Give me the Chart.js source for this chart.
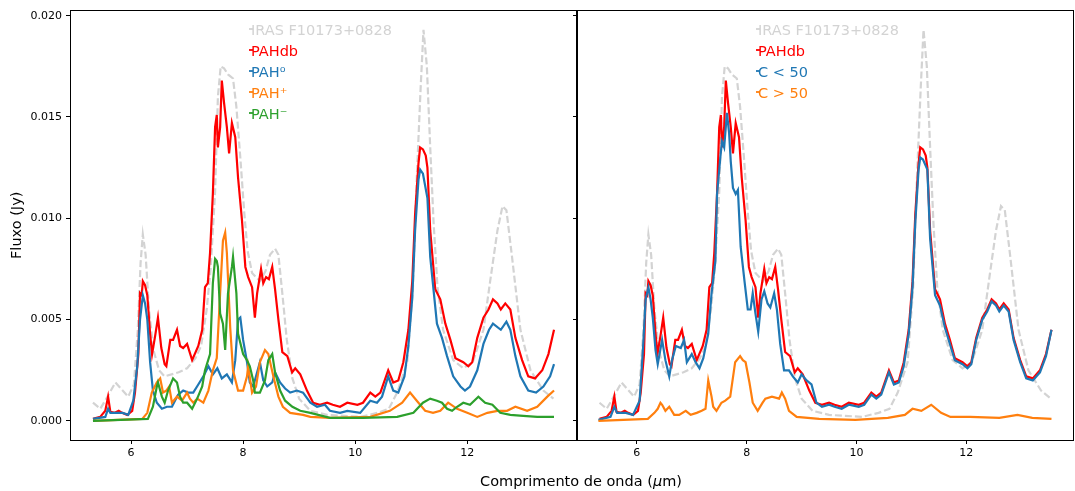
<!DOCTYPE html>
<html>
<head>
<meta charset="utf-8">
<script src="https://cdn.jsdelivr.net/npm/chart.js"></script>
<style>
  body { margin: 0; background: #fff; width: 1075px; height: 491px; overflow: hidden; position: relative; font-family: 'DejaVu Sans', sans-serif; }
  canvas { position: absolute; top: 0; }
  #left { left: 0; }
  #right { left: 567px; }
  #xtitle { position: absolute; left: 381px; width: 400px; top: 472px; text-align: center; font-size: 14.5px; line-height: 18px; color: #000; }
</style>
</head>
<body>
<canvas id="left" width="578" height="491"></canvas>
<canvas id="right" width="508" height="491"></canvas>
<div id="xtitle">Comprimento de onda (<i>µ</i>m)</div>
<script>
// observed spectrum (dashed grey), same in both panels
var wlObs = [5.32, 5.45, 5.6, 5.72, 5.85, 5.95, 6.05, 6.12, 6.17, 6.21, 6.26, 6.32, 6.4, 6.5, 6.6, 6.85, 7.0, 7.15, 7.25, 7.35,
    7.42, 7.5, 7.55, 7.6, 7.66, 7.73, 7.82, 7.88, 7.95, 8.02, 8.08, 8.16, 8.3, 8.4, 8.48, 8.57, 8.63, 8.7, 8.78, 8.88,
    9.0, 9.2, 9.5, 10.1, 10.4, 10.6, 10.75, 10.93, 11.03, 11.1, 11.17, 11.22, 11.28, 11.34, 11.4, 11.47, 11.57, 11.75, 11.93, 12.1,
    12.29, 12.41, 12.54, 12.63, 12.7, 12.8, 12.95, 13.13, 13.36, 13.54];
var fluxObs = [0.0009, 0.0006, 0.0013, 0.0019, 0.0015, 0.0012, 0.0018, 0.0045, 0.0078, 0.0092, 0.0082, 0.0055, 0.0035, 0.0025, 0.0022, 0.0024, 0.0026, 0.0031, 0.0037, 0.0055,
    0.0075, 0.0113, 0.016, 0.0175, 0.0174, 0.0171, 0.0169, 0.0155, 0.013, 0.0103, 0.0084, 0.0073, 0.0069, 0.0074, 0.0082, 0.0085, 0.0082, 0.0063, 0.004, 0.0021,
    0.0011, 0.0005, 0.0003, 0.0002, 0.0004, 0.0006, 0.0014, 0.0029, 0.0065, 0.012, 0.0165, 0.0193, 0.0175, 0.0135, 0.0098, 0.0066, 0.0045, 0.003, 0.0026, 0.0029,
    0.0045, 0.0069, 0.0094, 0.0106, 0.0104, 0.0081, 0.0045, 0.0025, 0.0015, 0.0011];

// PAHdb total fit (red), same in both panels
var wlFit = [5.32, 5.45, 5.54, 5.59, 5.63, 5.71, 5.78, 5.84, 5.93, 6.02, 6.07, 6.13, 6.16, 6.19, 6.21, 6.25, 6.29, 6.34, 6.375, 6.43,
    6.48, 6.54, 6.6, 6.63, 6.7, 6.75, 6.82, 6.875, 6.93, 7.0, 7.09, 7.2, 7.27, 7.32, 7.37, 7.41, 7.46, 7.5, 7.53, 7.55,
    7.59, 7.62, 7.66, 7.71, 7.75, 7.8, 7.86, 7.91, 7.98, 8.04, 8.09, 8.16, 8.21, 8.25, 8.32, 8.36, 8.41, 8.46, 8.52, 8.57,
    8.63, 8.7, 8.79, 8.875, 8.93, 9.02, 9.14, 9.25, 9.37, 9.5, 9.6, 9.73, 9.86, 10.04, 10.14, 10.27, 10.36, 10.45, 10.59, 10.68,
    10.77, 10.86, 10.95, 11.02, 11.07, 11.13, 11.16, 11.21, 11.26, 11.29, 11.34, 11.43, 11.52, 11.61, 11.7, 11.79, 11.93, 12.02, 12.09, 12.18,
    12.29, 12.38, 12.46, 12.54, 12.6, 12.68, 12.77, 12.86, 12.98, 13.09, 13.21, 13.34, 13.45, 13.55];
var fluxFit = [0.0001, 0.0002, 0.0005, 0.0012, 0.00045, 0.0004, 0.0005, 0.0004, 0.0003, 0.0005, 0.0014, 0.0033, 0.0063, 0.0062, 0.0069, 0.0067, 0.0062, 0.0043, 0.0033, 0.0042,
    0.0051, 0.0036, 0.0028, 0.0027, 0.004, 0.004, 0.0045, 0.0037, 0.0036, 0.0038, 0.003, 0.0037, 0.0045, 0.0066, 0.0068, 0.0083, 0.0112, 0.0145, 0.0151, 0.0135,
    0.0145, 0.0168, 0.0157, 0.0145, 0.0132, 0.0147, 0.014, 0.012, 0.0099, 0.0076, 0.0071, 0.0066, 0.0051, 0.0063, 0.0075, 0.0068, 0.0071, 0.007, 0.0076, 0.0065,
    0.005, 0.0034, 0.0032, 0.0024, 0.0026, 0.0023, 0.0015, 0.0009, 0.0008, 0.0009, 0.0008, 0.0007, 0.0009, 0.0008, 0.0009, 0.0014, 0.0012, 0.0014, 0.0025, 0.0019,
    0.002, 0.0029, 0.0045, 0.0069, 0.0102, 0.0127, 0.0135, 0.0134, 0.0131, 0.0125, 0.0094, 0.0065, 0.006, 0.0048, 0.004, 0.0031, 0.0029, 0.0027, 0.0029, 0.0041,
    0.0051, 0.0055, 0.006, 0.0058, 0.0055, 0.0058, 0.0055, 0.0041, 0.003, 0.0022, 0.0021, 0.0025, 0.0033, 0.0045];

// left panel: charge breakdown
var wlNeutral = [5.32, 5.54, 5.59, 5.63, 5.75, 5.85, 5.95, 6.04, 6.11, 6.16, 6.21, 6.25, 6.29, 6.34, 6.39, 6.46, 6.55, 6.64, 6.73, 6.84,
    6.93, 7.02, 7.11, 7.2, 7.29, 7.38, 7.46, 7.54, 7.62, 7.71, 7.8, 7.86, 7.91, 7.95, 8.0, 8.07, 8.12, 8.18, 8.25, 8.3,
    8.36, 8.43, 8.52, 8.57, 8.66, 8.75, 8.84, 8.96, 9.07, 9.2, 9.32, 9.46, 9.55, 9.73, 9.86, 10.09, 10.27, 10.39, 10.48, 10.59,
    10.68, 10.77, 10.88, 10.95, 11.02, 11.07, 11.13, 11.16, 11.21, 11.29, 11.34, 11.46, 11.55, 11.64, 11.75, 11.88, 11.96, 12.05, 12.18, 12.29,
    12.39, 12.46, 12.6, 12.7, 12.77, 12.86, 12.95, 13.09, 13.23, 13.36, 13.48, 13.55];
var fluxNeutral = [0.0001, 0.0002, 0.0006, 0.0004, 0.0004, 0.0004, 0.0003, 0.001, 0.0027, 0.005, 0.0062, 0.0058, 0.005, 0.0029, 0.0015, 0.0009, 0.0006, 0.0007, 0.0007, 0.0013,
    0.0015, 0.0014, 0.0014, 0.0018, 0.0022, 0.0027, 0.0023, 0.0026, 0.0021, 0.0023, 0.0019, 0.003, 0.005, 0.0051, 0.004, 0.0029, 0.0019, 0.0017, 0.0024, 0.0029,
    0.002, 0.0017, 0.0019, 0.0024, 0.0019, 0.0016, 0.0014, 0.0015, 0.0014, 0.0009, 0.0007, 0.0008, 0.0005, 0.0004, 0.0005, 0.0004, 0.001, 0.0009, 0.0012, 0.0022,
    0.0015, 0.0014, 0.0022, 0.0037, 0.0061, 0.0094, 0.0119, 0.0124, 0.0122, 0.011, 0.0081, 0.0048, 0.0041, 0.0032, 0.0022, 0.0017, 0.0015, 0.0017, 0.0025, 0.0038,
    0.0045, 0.0048, 0.0045, 0.0049, 0.0045, 0.0032, 0.0022, 0.0015, 0.0014, 0.0017, 0.0022, 0.0028];

var wlCation = [5.32, 6.2, 6.29, 6.37, 6.46, 6.52, 6.57, 6.63, 6.68, 6.73, 6.82, 6.91, 7.0, 7.05, 7.11, 7.18, 7.29, 7.38, 7.46, 7.53,
    7.59, 7.64, 7.68, 7.71, 7.77, 7.82, 7.91, 8.0, 8.07, 8.09, 8.16, 8.23, 8.3, 8.39, 8.45, 8.54, 8.63, 8.71, 8.84, 9.07,
    9.2, 9.55, 10.27, 10.62, 10.84, 10.98, 11.1, 11.25, 11.39, 11.52, 11.66, 11.82, 12.0, 12.18, 12.36, 12.54, 12.71, 12.86, 13.07, 13.25,
    13.43, 13.55];
var fluxCation = [0.0, 0.0001, 0.0004, 0.0014, 0.0019, 0.0021, 0.0014, 0.0015, 0.0017, 0.0009, 0.0012, 0.001, 0.0014, 0.0011, 0.0009, 0.0011, 0.0009, 0.0015, 0.0025, 0.0031,
    0.0063, 0.0089, 0.0093, 0.0083, 0.0046, 0.0025, 0.0015, 0.0015, 0.0022, 0.0027, 0.0014, 0.0017, 0.0029, 0.0035, 0.0033, 0.0022, 0.0012, 0.0007, 0.0004, 0.0003,
    0.0002, 0.00015, 0.0002, 0.0005, 0.0009, 0.0014, 0.001, 0.0005, 0.0004, 0.0005, 0.0009, 0.0006, 0.0004, 0.0002, 0.0004, 0.0005, 0.0005, 0.0007, 0.0005, 0.0007,
    0.0012, 0.0015];

var wlAnion = [5.32, 6.3, 6.39, 6.46, 6.48, 6.55, 6.6, 6.66, 6.75, 6.82, 6.875, 6.93, 7.0, 7.09, 7.18, 7.27, 7.32, 7.41, 7.46, 7.5,
    7.53, 7.55, 7.59, 7.64, 7.68, 7.73, 7.8, 7.82, 7.88, 7.91, 8.0, 8.07, 8.12, 8.18, 8.21, 8.3, 8.39, 8.45, 8.52, 8.57,
    8.66, 8.75, 8.88, 9.02, 9.2, 9.55, 10.14, 10.75, 11.04, 11.21, 11.34, 11.46, 11.55, 11.64, 11.73, 11.82, 11.93, 12.05, 12.2, 12.32,
    12.45, 12.59, 12.77, 13.0, 13.25, 13.55];
var fluxAnion = [0.0, 0.0001, 0.0007, 0.0017, 0.0019, 0.0012, 0.0009, 0.0015, 0.0021, 0.0019, 0.0012, 0.0009, 0.0009, 0.0006, 0.0011, 0.0017, 0.0025, 0.0033, 0.0068, 0.008,
    0.0079, 0.0076, 0.0053, 0.0048, 0.0035, 0.0063, 0.0076, 0.0081, 0.0063, 0.0043, 0.0033, 0.003, 0.0027, 0.002, 0.0014, 0.0014, 0.002, 0.003, 0.0033, 0.0024,
    0.0015, 0.001, 0.0007, 0.0005, 0.0004, 0.00015, 0.00015, 0.0002, 0.0004, 0.0009, 0.0011, 0.001, 0.0009, 0.0006, 0.0005, 0.0007, 0.0009, 0.0008, 0.0012, 0.0009,
    0.0008, 0.0004, 0.0003, 0.00025, 0.0002, 0.0002];

// right panel: size breakdown
var wlSmall = [5.3, 5.52, 5.59, 5.64, 5.8, 5.93, 6.05, 6.11, 6.16, 6.21, 6.25, 6.29, 6.34, 6.38, 6.46, 6.52, 6.59, 6.64, 6.71, 6.8,
    6.86, 6.91, 7.0, 7.07, 7.14, 7.21, 7.3, 7.36, 7.43, 7.46, 7.52, 7.55, 7.59, 7.64, 7.68, 7.71, 7.75, 7.8, 7.84, 7.89,
    7.96, 8.02, 8.07, 8.11, 8.16, 8.21, 8.27, 8.32, 8.38, 8.43, 8.5, 8.55, 8.61, 8.68, 8.77, 8.84, 8.93, 9.0, 9.09, 9.18,
    9.27, 9.37, 9.5, 9.6, 9.73, 9.86, 10.04, 10.14, 10.27, 10.36, 10.45, 10.59, 10.68, 10.77, 10.86, 10.95, 11.02, 11.07, 11.13, 11.16,
    11.21, 11.29, 11.34, 11.43, 11.52, 11.61, 11.7, 11.79, 11.93, 12.02, 12.09, 12.18, 12.29, 12.38, 12.46, 12.54, 12.6, 12.68, 12.77, 12.86,
    12.98, 13.09, 13.21, 13.34, 13.45, 13.55];
var fluxSmall = [0.00005, 0.0002, 0.0007, 0.0004, 0.0004, 0.0003, 0.001, 0.0035, 0.006, 0.0066, 0.006, 0.0051, 0.0035, 0.0028, 0.004, 0.003, 0.0022, 0.003, 0.0037, 0.0036,
    0.004, 0.0029, 0.0033, 0.0029, 0.0026, 0.0031, 0.0043, 0.0063, 0.0079, 0.0112, 0.013, 0.0138, 0.0135, 0.0152, 0.0142, 0.0128, 0.0115, 0.0112, 0.0114, 0.0086,
    0.0069, 0.0055, 0.0055, 0.0063, 0.0053, 0.0044, 0.006, 0.0064, 0.0058, 0.0056, 0.0063, 0.0055, 0.0038, 0.0025, 0.0025, 0.0022, 0.0019, 0.0023, 0.002, 0.0018,
    0.0009, 0.0007, 0.0008, 0.0007, 0.0006, 0.0008, 0.0007, 0.0008, 0.0013, 0.0011, 0.0013, 0.0024, 0.0018, 0.0019, 0.0027, 0.0043, 0.0066, 0.0098, 0.0124, 0.013,
    0.0129, 0.0124, 0.009, 0.0062, 0.0057, 0.0046, 0.0038, 0.003, 0.0028, 0.0026, 0.0028, 0.004, 0.005, 0.0054, 0.0059, 0.0057, 0.0054, 0.0057, 0.0054, 0.004,
    0.0029, 0.0021, 0.002, 0.0024, 0.0032, 0.0045];

var wlLarge = [5.3, 6.2, 6.32, 6.38, 6.43, 6.46, 6.52, 6.59, 6.68, 6.77, 6.89, 6.98, 7.09, 7.18, 7.25, 7.3, 7.36, 7.39, 7.45, 7.54,
    7.61, 7.7, 7.79, 7.88, 7.93, 7.98, 8.05, 8.11, 8.2, 8.29, 8.34, 8.46, 8.59, 8.64, 8.7, 8.77, 8.91, 9.32, 9.98, 10.57,
    10.88, 11.02, 11.18, 11.36, 11.54, 11.71, 12.07, 12.6, 12.93, 13.2, 13.55];
var fluxLarge = [0.0, 0.0001, 0.0004, 0.0006, 0.0009, 0.0008, 0.0005, 0.0007, 0.0003, 0.0003, 0.0005, 0.0003, 0.0004, 0.0005, 0.0006, 0.002, 0.0012, 0.0007, 0.0005, 0.0009,
    0.001, 0.0012, 0.0029, 0.0032, 0.003, 0.0029, 0.0019, 0.0009, 0.0005, 0.0009, 0.0011, 0.0012, 0.0011, 0.0014, 0.0011, 0.0005, 0.0002, 0.0001, 0.00005, 0.00015,
    0.0003, 0.0006, 0.0005, 0.0008, 0.0004, 0.0002, 0.0002, 0.00015, 0.0003, 0.00015, 0.0001];

var xTicks = [6, 8, 10, 12];
var yTicks = [0, 0.005, 0.010, 0.015, 0.020];
var xRange = [4.91, 13.96];
var yRange = [-0.00094, 0.02025];

var FONT = "'DejaVu Sans', sans-serif";

function pts(wl, flux) {
    return wl.map((x, i) => ({ x: x, y: flux[i] }));
}

function series(label, wl, flux, color, dashed) {
    return {
        label: label,
        data: pts(wl, flux),
        borderColor: color,
        backgroundColor: color,
        borderWidth: dashed ? 2.2 : 2.2,
        borderDash: dashed ? [7, 3] : [],
        pointRadius: 0,
        showLine: true,
        tension: 0,
        fill: false
    };
}

// matplotlib-like box around the plot area
var framePlugin = {
    id: 'frame',
    afterDraw(chart) {
        let a = chart.chartArea, ctx = chart.ctx;
        ctx.save();
        ctx.strokeStyle = '#000';
        ctx.lineWidth = 1;
        ctx.strokeRect(Math.round(a.left) + 0.5, Math.round(a.top) - 0.5, Math.round(a.right - a.left) - 1, Math.round(a.bottom - a.top) + 1);
        ctx.restore();
    }
};

// legend without frame, text coloured like the lines
var textLegend = {
    id: 'textLegend',
    afterDraw(chart, args, opts) {
        let ctx = chart.ctx;
        ctx.save();
        ctx.font = '14.5px ' + FONT;
        ctx.textBaseline = 'alphabetic';
        chart.data.datasets.forEach((ds, i) => {
            let y = opts.y + i * opts.step;
            ctx.fillStyle = ds.borderColor;
            ctx.fillText(ds.label, opts.x, y);
            ctx.strokeStyle = ds.borderColor;
            ctx.lineWidth = 1.8;
            ctx.beginPath();
            ctx.moveTo(opts.x - 2, y - 5.5);
            ctx.lineTo(opts.x + 2, y - 5.5);
            ctx.stroke();
        });
        ctx.restore();
    }
};

function makeChart(id, datasets, legendX, yLabels, yWidth) {
    datasets.forEach((ds, i) => { ds.order = datasets.length - i; });
    let ctx = document.getElementById(id).getContext('2d');
    return new Chart(ctx, {
        type: 'scatter',
        data: { datasets: datasets },
        plugins: [framePlugin, textLegend],
        options: {
            responsive: false,
            animation: false,
            devicePixelRatio: 1,
            layout: { padding: { top: 10, right: 1, left: 0, bottom: 0 } },
            plugins: {
                legend: { display: false },
                tooltip: { enabled: false },
                textLegend: { x: legendX, y: 34.5, step: 21 }
            },
            scales: {
                x: {
                    type: 'linear',
                    min: xRange[0],
                    max: xRange[1],
                    afterBuildTicks: s => { s.ticks = xTicks.map(v => ({ value: v })); },
                    afterFit: s => { s.height = 51; },
                    border: { display: false },
                    grid: { drawOnChartArea: false, drawTicks: true, tickLength: 4, tickColor: '#000', tickWidth: 1 },
                    ticks: { color: '#000', padding: 3, maxRotation: 0, autoSkip: false, font: { size: 11, family: FONT }, callback: v => String(v) }
                },
                y: {
                    type: 'linear',
                    min: yRange[0],
                    max: yRange[1],
                    afterBuildTicks: s => { s.ticks = yTicks.map(v => ({ value: v })); },
                    afterFit: s => { s.width = yWidth; },
                    border: { display: false },
                    grid: { drawOnChartArea: false, drawTicks: true, tickLength: 4, tickColor: '#000', tickWidth: 1 },
                    ticks: { color: '#000', padding: 4, autoSkip: false, font: { size: 11, family: FONT }, callback: v => yLabels ? v.toFixed(3) : '' },
                    title: {
                        display: yLabels,
                        text: 'Fluxo (Jy)',
                        color: '#000',
                        font: { size: 14.5, family: FONT },
                        padding: { top: 9, bottom: 0 }
                    }
                }
            }
        }
    });
}

var grey = '#d3d3d3';

makeChart('left', [
    series('IRAS F10173+0828', wlObs, fluxObs, grey, true),
    series('PAHdb', wlFit, fluxFit, '#ff0000'),
    series('PAH⁰', wlNeutral, fluxNeutral, '#1f77b4'),
    series('PAH⁺', wlCation, fluxCation, '#ff7f0e'),
    series('PAH⁻', wlAnion, fluxAnion, '#2ca02c')
], 251, true, 70);

makeChart('right', [
    series('IRAS F10173+0828', wlObs, fluxObs, grey, true),
    series('PAHdb', wlFit, fluxFit, '#ff0000'),
    series('C < 50', wlSmall, fluxSmall, '#1f77b4'),
    series('C > 50', wlLarge, fluxLarge, '#ff7f0e')
], 191, false, 10);
</script>
</body>
</html>
